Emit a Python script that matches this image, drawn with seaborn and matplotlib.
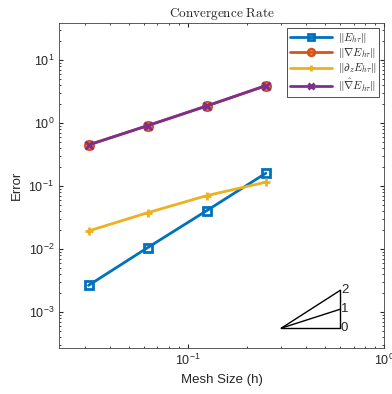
import numpy as np
import matplotlib
matplotlib.use('Agg')
import matplotlib.pyplot as plt
import seaborn as sns
from matplotlib.ticker import LogLocator, NullFormatter

sns.set_style('ticks')
plt.rcParams['font.family'] = ['Liberation Sans', 'DejaVu Sans']
plt.rcParams['mathtext.fontset'] = 'cm'

# mesh sizes and errors
mesh_h = [1/32, 1/16, 1/8, 1/4]
err_E = [0.00267, 0.0106, 0.041, 0.161]
err_grad = [0.453, 0.916, 1.88, 3.95]
err_dz = [0.0195, 0.038, 0.071, 0.116]
err_hatgrad = [0.453, 0.916, 1.88, 3.95]

labels = [r'$\|E_{h\tau}\|$', r'$\|\nabla E_{h\tau}\|$',
          r'$\|\partial_z E_{h\tau}\|$', r'$\|\hat{\nabla} E_{h\tau}\|$']
colors = ['#0072BD', '#D95319', '#EDB120', '#7E2F8E']
markers = ['s', 'o', '+', 'x']

# slope triangle
tri_x0, tri_x1 = 0.3, 0.6
tri_y0 = 5.6e-4
slopes = [0, 1, 2]

fig = plt.figure(figsize=(3.92, 3.94), dpi=100)
ax = fig.add_axes([0.1505, 0.1168, 0.8291, 0.8248])

for vals, lab, col, mk in zip([err_E, err_grad, err_dz, err_hatgrad], labels, colors, markers):
    sns.lineplot(x=mesh_h, y=vals, ax=ax, label=lab, color=col, marker=mk,
                 linewidth=2, markersize=6, markerfacecolor='none',
                 markeredgecolor=col, markeredgewidth=2)

for p in slopes:
    ax.plot([tri_x0, tri_x1], [tri_y0, tri_y0 * (tri_x1 / tri_x0) ** p], color='black', lw=1)
    ax.text(tri_x1 * 1.005, tri_y0 * (tri_x1 / tri_x0) ** p, str(p), fontsize=9.5,
            va='center', ha='left', color='#262626')
ax.plot([tri_x1, tri_x1], [tri_y0, tri_y0 * (tri_x1 / tri_x0) ** max(slopes)], color='black', lw=1)

ax.set_xscale('log')
ax.set_yscale('log')
ax.set_xlim(0.0221, 1.0)
ax.set_ylim(2.71e-4, 39)

ax.set_title(r'$\mathrm{Convergence\ Rate}$', fontsize=9.5, pad=4)
ax.set_xlabel('Mesh Size (h)', fontsize=9.5, color='#262626')
ax.set_ylabel('Error', fontsize=9.5, color='#262626')

ax.xaxis.set_major_locator(LogLocator(base=10))
ax.xaxis.set_minor_locator(LogLocator(base=10, subs=np.arange(2, 10)))
ax.xaxis.set_minor_formatter(NullFormatter())
ax.yaxis.set_minor_locator(LogLocator(base=10, subs=np.arange(2, 10), numticks=20))
ax.yaxis.set_minor_formatter(NullFormatter())
ax.tick_params(which='both', direction='in', top=True, right=True, colors='#262626', labelsize=9)
ax.tick_params(which='major', length=3)
ax.tick_params(which='minor', length=1.5)
for s in ax.spines.values():
    s.set_color('#404040')
    s.set_linewidth(0.6)

leg = ax.legend(loc='upper right', fontsize=8, frameon=True, fancybox=False,
                edgecolor='black', borderaxespad=0.45, handlelength=3.8,
                labelspacing=0.12, borderpad=0.25, handletextpad=0.5, markerscale=0.8)
leg.get_frame().set_linewidth(0.6)

plt.savefig('out.png', dpi=100)
